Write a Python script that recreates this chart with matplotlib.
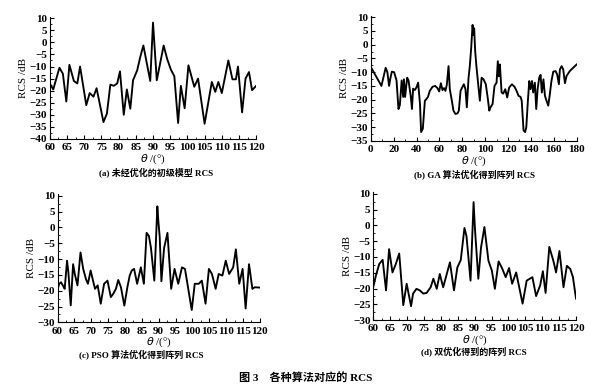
import numpy as np
import matplotlib.pyplot as plt
from matplotlib.ticker import MultipleLocator

# (a) initial model
a_theta = [60, 61, 62.8, 63.8, 64.8, 65.7, 67.0, 68.0, 68.8, 70.6, 71.6, 72.7, 73.6,
           75.6, 76.6, 77.6, 78.6, 79.6, 80.4, 81.5, 82.4, 83.4, 84.2, 85.4, 86.3,
           87.2, 89.2, 90.0, 91.1, 93.1, 94.1, 95.2, 96.2, 97.3, 98.1, 99.2, 100.3,
           102.0, 103.1, 105.0, 107.1, 108.1, 109.0, 110.0, 111.9, 113.1, 114.1,
           114.7, 115.9, 116.9, 117.9, 118.8, 120]
a_rcs = [-17, -19.5, -10.5, -13, -24.5, -9.3, -16, -17, -10, -26, -21, -22.5, -19,
         -33, -29.5, -17.5, -18, -17, -12, -30, -19.5, -27.5, -15.7, -11.6, -6,
         -1.3, -16, 8.2, -15.7, -1.3, -6.8, -11.3, -14, -33.4, -18, -27.3, -9.5,
         -18.4, -15, -33.7, -16.4, -20.5, -16.4, -21, -7.5, -15.3, -15.3,
         -10, -29, -15, -12.3, -19.8, -18]

# (b) GA
b_theta = [0, 9.3, 13, 14.5, 16, 17, 18.4, 20.4, 22.5, 24.2, 25.4, 27, 28.3, 29, 30,
           31.8, 33, 35, 36, 37, 38.5, 40, 41.4, 43, 44, 45.5, 47.3, 48.2, 50, 51.6,
           54, 56.3, 58.3, 59.8, 61.3, 62.7, 64, 65.3, 66.5, 68, 69.1, 70.9, 72.3,
           74, 75.8, 77, 78.5, 80, 81.4, 82.8, 84, 85.5, 86.6, 87.8, 89, 89.8,
           90.4, 91.3, 92.5, 94.2, 95.4, 96.9, 98.6, 100.6, 102.4, 103.6, 104.7,
           106.5, 108.2, 110, 111.1, 112, 112.9, 114.4, 115.8, 117.6, 119.3, 121,
           123.4, 125.7, 127.5, 129.2, 131, 132, 133.6, 135, 136, 137.4, 138.6,
           139.7, 141, 142, 143.5, 144.7, 145.9, 147.3, 148.5, 149.6, 151, 152.3,
           153.7, 155.2, 156.6, 158, 159.6, 161.6, 163, 164.5, 165.4, 166.9, 168.3,
           169.8, 171.2, 174, 180]
b_rcs = [-8.1, -15, -8.4, -10, -15, -12.5, -9.8, -10, -13, -23.4, -22, -13, -19,
         -12.6, -19, -12, -13, -19, -23.4, -16, -16.5, -15.5, -13.8, -21.5, -31.8,
         -30.6, -20.4, -20, -19, -16.8, -15.3, -15, -15.8, -17, -14, -16.5, -15.8,
         -16.8, -14.5, -7.8, -16.2, -20.4, -24, -25.2, -25, -24, -16.8, -15.5,
         -14.4, -16.2, -22.8, -12, -7.8, -1.2, 7.2, 3.6, 6, -2.4, -8.4, -15.5,
         -20.4, -12, -12.6, -14.4, -19.8, -24, -22.8, -21.6, -15, -13.8, -6, -11.5,
         -7.2, -17.4, -17.8, -16.2, -19.2, -15.6, -14.4, -15.3, -16.8, -18.6, -19,
         -20.4, -31.2, -31.8, -30, -20.4, -13.2, -16.2, -13.2, -17.4, -13.8, -23.4,
         -16.2, -12, -11, -17.4, -12.6, -18.6, -20.4, -22.2, -18, -13.2, -9.8,
         -9.6, -10.8, -14.4, -9, -7.8, -9, -14, -11.4, -9.6, -7.2]

# (c) PSO
c_theta = [60, 60.5, 61, 61.7, 62.1, 62.8, 63.2, 63.9, 64.6, 65.1, 65.9, 66.8, 67.6,
           68.4, 69, 69.8, 70.4, 71.1, 71.9, 72.8, 73.8, 74.8, 75.8, 76.5, 77.3, 78,
           78.8, 79.8, 80.7, 81.4, 82, 82.7, 83.6, 84.7, 85.6, 86.4, 87.1, 87.7,
           88.7, 89.6, 89.9, 90.3, 90.8, 91.6, 92.6, 93.7, 94.7, 95.8, 96.9, 97.8,
           99.8, 100.7, 101.9, 102.8, 103.9, 104.9, 105.8, 106.9, 107.8, 108.9,
           109.9, 110.9, 112.1, 112.9, 113.9, 114.9, 115.8, 116.8, 117.8, 118.5, 120]
c_rcs = [-19.4, -17.8, -17.3, -18.6, -19.4, -10.5, -14.2, -24.6, -11.6, -14.7,
         -18.3, -7.9, -13.1, -16.3, -17.8, -13.6, -16.3, -19.4, -18.3, -24.1,
         -17.8, -16.8, -22, -21, -19.4, -16.6, -18.9, -24.7, -18.9, -15.2, -13.6,
         -13.1, -17.8, -12.6, -17.8, -1.7, -2.7, -6.4, -16.8, 6.7, 2, -3, -17,
         -6.5, -1.7, -19.4, -13.1, -17.8, -12.6, -13.1, -26.1, -17.8, -17.8,
         -16.8, -24.1, -13.1, -14.7, -19.4, -14.7, -15.2, -10.5, -14.7, -12.6,
         -6.9, -17.8, -13.1, -25.6, -11.6, -19.4, -18.9, -19]

# (d) double optimisation
d_theta = [60, 60.8, 61.8, 62.8, 63.8, 64.7, 65.7, 66.7, 67.7, 68.9, 69.9, 71.2, 71.8,
           72.8, 73.8, 74.8, 75.8, 77, 77.8, 78.8, 79.7, 80.7, 82.7, 83.9, 84.9,
           85.9, 87, 87.6, 88.8, 89.7, 90.1, 91.1, 91.9, 92.9, 94.1, 95.1, 96, 97.1,
           98.1, 99.2, 100.2, 101.1, 102.3, 104.2, 105.4, 107.1, 108.2, 109.4,
           110.2, 111, 112.1, 113.3, 114.1, 115.1, 116.3, 117.3, 118.3, 119.1, 120]
d_rcs = [-19.6, -15.9, -12.2, -10.9, -20.6, -7.5, -14.9, -12.2, -8.9, -25.3, -18.5,
         -25.6, -21.6, -20.1, -20.6, -21.6, -21.4, -19.6, -16.9, -20.1, -15.4,
         -19.6, -11.7, -20.6, -13.3, -11, -0.8, -3.4, -17.5, 7.4, -1, -16.9, -7,
         -0.5, -11.2, -14.3, -20.1, -11.4, -13.5, -16.4, -13.5, -18.5, -14.9,
         -24.8, -17.5, -16.4, -22.4, -19, -14.5, -21.4, -6.8, -11.2, -14.9, -8.1,
         -19.6, -12.8, -13.8, -16.4, -23.2]

captions = ['(a) 未经优化的初级模型 RCS', '(b) GA 算法优化得到阵列 RCS',
            '(c) PSO 算法优化得到阵列 RCS', '(d) 双优化得到的阵列 RCS']

plt.rcParams['font.family'] = ['Liberation Serif', 'Noto Sans CJK SC', 'DejaVu Sans']

fig = plt.figure(figsize=(6, 3.87), dpi=100)

panels = [
    # rect, theta, rcs, xlim, xstep, ylim, cap pos
    ([0.083, 0.641, 0.344, 0.315], a_theta, a_rcs, (60, 120), 5, (-40, 10.5), (0.26, 0.556)),
    ([0.618, 0.636, 0.343, 0.323], b_theta, b_rcs, (0, 180), 20, (-35, 10.5), (0.79, 0.551)),
    ([0.096, 0.167, 0.337, 0.331], c_theta, c_rcs, (60, 120), 5, (-30, 10.5), (0.235, 0.085)),
    ([0.622, 0.173, 0.338, 0.330], d_theta, d_rcs, (60, 120), 5, (-30, 10.5), (0.79, 0.093)),
]

for (rect, th, rc, xl, xs, yl, cp), cap in zip(panels, captions):
    ax = fig.add_axes(rect)
    ax.plot(th, rc, color='black', lw=1.35)
    ax.set_xlim(*xl)
    ax.set_ylim(*yl)
    ax.xaxis.set_major_locator(MultipleLocator(xs))
    ax.xaxis.set_minor_locator(MultipleLocator(xs / 2))
    ax.yaxis.set_major_locator(MultipleLocator(5))
    ax.yaxis.set_minor_locator(MultipleLocator(2.5))
    ax.spines['top'].set_visible(False)
    ax.spines['right'].set_visible(False)
    ax.tick_params(which='both', direction='in', labelsize=8)
    ax.tick_params(axis='x', pad=3)
    ax.tick_params(axis='y', pad=2)
    ax.tick_params(which='major', length=3)
    ax.tick_params(which='minor', length=1.5)
    for lab in ax.get_xticklabels() + ax.get_yticklabels():
        lab.set_fontweight('bold')
    ax.set_ylabel('RCS /dB', fontsize=8, labelpad=1)
    ax.set_xlabel(r'$\theta$ /(°)', fontsize=8, labelpad=0)
    fig.text(cp[0], cp[1], cap, fontsize=6.5, fontweight='bold',
             ha='center', va='center')

fig.text(0.51, 0.023, '图 3    各种算法对应的 RCS', fontsize=8, fontweight='bold',
         ha='center', va='center')

fig.savefig('out.png', dpi=100)
